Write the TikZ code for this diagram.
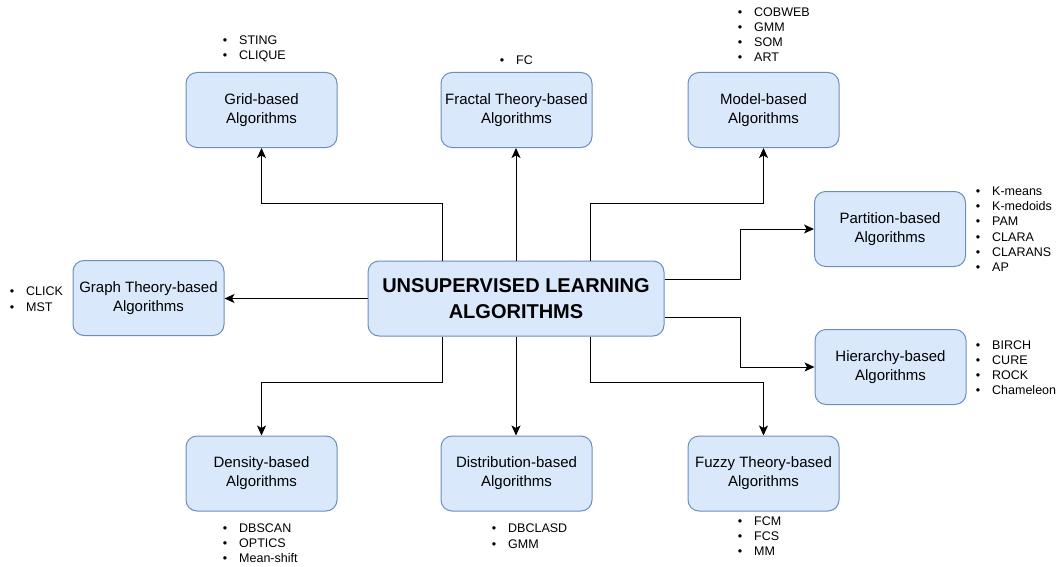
\documentclass[tikz,border=0pt]{standalone}
\usepackage{fontspec}
\setmainfont{Liberation Sans}
\usetikzlibrary{arrows.meta,calc}

\definecolor{boxfill}{HTML}{DAE8FC}
\definecolor{boxline}{HTML}{6C8EBF}

\tikzset{
  algbox/.style={draw=boxline, fill=boxfill, line width=1pt, rounded corners=11pt,
    minimum width=151pt, minimum height=75pt, align=center, inner sep=2pt,
    font=\fontsize{15}{19}\selectfont, execute at begin node=\rule{0pt}{14pt}},
  mainbox/.style={algbox, minimum width=296pt,
    font=\fontsize{20}{26}\selectfont\bfseries},
  link/.style={line width=1pt, -{Stealth[length=10pt,width=9pt,inset=2.5pt]}},
  bitem/.style={anchor=west, inner sep=0pt, text height=9pt, text depth=0pt,
    font=\fontsize{12.5}{15}\selectfont},
}
\newcommand{\bul}{\llap{\textbullet\hspace{12pt}}}

\begin{document}
\begin{tikzpicture}[x=1pt,y=-1pt]
\useasboundingbox (0,0) rectangle (1062,567);

% central node
\node[mainbox] (c) at (516,298.5) {UNSUPERVISED LEARNING\\ALGORITHMS};

% algorithm families
\node[algbox] (grid) at (261.5,110) {Grid-based\\Algorithms};
\node[algbox] (frac) at (516.5,110) {Fractal Theory-based\\Algorithms};
\node[algbox] (model) at (763.5,110) {Model-based\\Algorithms};
\node[algbox] (graph) at (148.5,298) {Graph Theory-based\\Algorithms};
\node[algbox] (part) at (890,229) {Partition-based\\Algorithms};
\node[algbox] (hier) at (890.5,367) {Hierarchy-based\\Algorithms};
\node[algbox] (dens) at (261.5,473.5) {Density-based\\Algorithms};
\node[algbox] (dist) at (516.5,473.5) {Distribution-based\\Algorithms};
\node[algbox] (fuzzy) at (763.5,473.5) {Fuzzy Theory-based\\Algorithms};

% connectors
\draw[link] ([xshift=-74pt]c.north) -- ++(0,-57) -| (grid.south);
\draw[link] (c.north) -- (c.north |- frac.south);
\draw[link] ([xshift=74pt]c.north) -- ++(0,-57) -| (model.south);
\draw[link] (c.west) -- (c.west -| graph.east);
\draw[link] ([yshift=19.5pt]c.east) -- ++(76,0) |- (part.west);
\draw[link] ([yshift=-18.5pt]c.east) -- ++(76,0) |- (hier.west);
\draw[link] ([xshift=-74pt]c.south) -- ++(0,46) -| (dens.north);
\draw[link] (c.south) -- (c.south |- dist.north);
\draw[link] ([xshift=74pt]c.south) -- ++(0,46) -| (fuzzy.north);

% member lists
\foreach \t [count=\i] in {STING,CLIQUE}
  \node[bitem] (gridl\i) at (239,40+15*\i-15) {\bul\t};
\node[bitem] (fracl1) at (516,60) {\bul FC};
\foreach \t [count=\i] in {COBWEB,GMM,SOM,ART}
  \node[bitem] (modell\i) at (754,12+15*\i-15) {\bul\t};
\foreach \t [count=\i] in {K-means,K-medoids,PAM,CLARA,CLARANS,AP}
  \node[bitem] (partl\i) at (992,191+15.2*\i-15.2) {\bul\t};
\foreach \t [count=\i] in {BIRCH,CURE,ROCK,Chameleon}
  \node[bitem] (hierl\i) at (992,345+15*\i-15) {\bul\t};
\foreach \t [count=\i] in {CLICK,MST}
  \node[bitem] (graphl\i) at (26,291+15.5*\i-15.5) {\bul\t};
\foreach \t [count=\i] in {DBSCAN,OPTICS,Mean-shift}
  \node[bitem] (densl\i) at (239,528+15*\i-15) {\bul\t};
\foreach \t [count=\i] in {DBCLASD,GMM}
  \node[bitem] (distl\i) at (508,528+15.5*\i-15.5) {\bul\t};
\foreach \t [count=\i] in {FCM,FCS,MM}
  \node[bitem] (fuzzyl\i) at (754,521+15*\i-15) {\bul\t};
\end{tikzpicture}
\end{document}
